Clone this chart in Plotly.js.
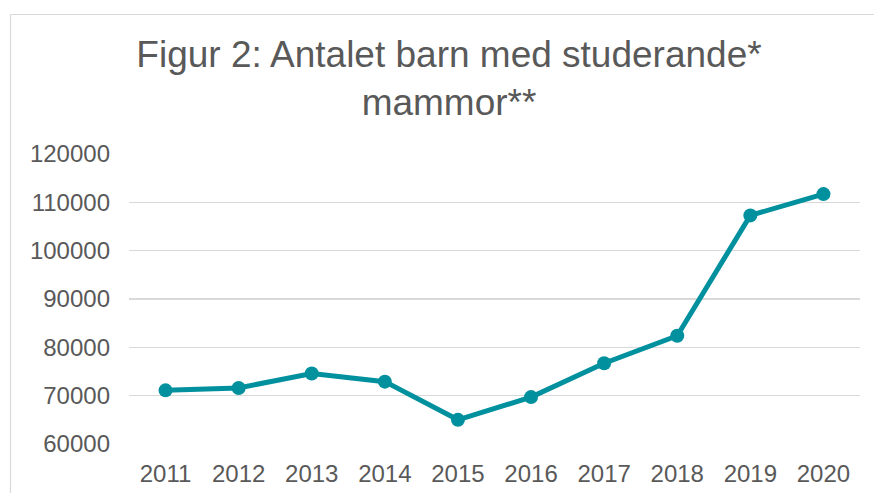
<!DOCTYPE html>
<html>
<head>
<meta charset="utf-8">
<script src="https://cdn.plot.ly/plotly-3.0.1.min.js"></script>
<style>
html,body{margin:0;padding:0;background:#fff;}
#chart{width:874px;height:493px;}
</style>
</head>
<body>
<div id="chart"></div>
<script>
const years = ["2011","2012","2013","2014","2015","2016","2017","2018","2019","2020"];
const antal = [71100, 71600, 74600, 72900, 65000, 69700, 76700, 82400, 107300, 111700];
const yTicks = [60000, 70000, 80000, 90000, 100000, 110000, 120000];
const titleText = "Figur 2: Antalet barn med studerande*<br>mammor**";

const L = 129, R = 14, T = 154, B = 49;
const W = 874 - L - R, H = 493 - T - B;

Plotly.newPlot("chart", [{
  x: years,
  y: antal,
  type: "scatter",
  mode: "lines+markers",
  line: {color: "#00909E", width: 5},
  marker: {color: "#00909E", size: 14},
  hoverinfo: "x+y"
}], {
  width: 874,
  height: 493,
  margin: {l: L, r: R, t: T, b: B},
  paper_bgcolor: "#fff",
  plot_bgcolor: "#fff",
  showlegend: false,
  title: {
    text: titleText,
    font: {family: "Liberation Sans, Arial, sans-serif", size: 37, color: "#595959"},
    xref: "container", x: 449 / 874, xanchor: "center",
    yref: "paper", y: 1, yanchor: "bottom",
    pad: {b: 87}
  },
  xaxis: {
    type: "category",
    range: [-0.5, 9.5],
    showgrid: false,
    showline: false,
    zeroline: false,
    ticks: "",
    ticklabelstandoff: 13,
    tickfont: {family: "Liberation Sans, Arial, sans-serif", size: 24, color: "#595959"}
  },
  yaxis: {
    range: [60000, 120000],
    tickvals: yTicks,
    ticktext: yTicks.map(String),
    showgrid: true,
    gridcolor: "#d9d9d9",
    gridwidth: 1.2,
    zeroline: false,
    showline: false,
    ticks: "",
    ticklabelstandoff: 18,
    tickfont: {family: "Liberation Sans, Arial, sans-serif", size: 24, color: "#595959"}
  },
  shapes: [{
    type: "rect",
    xref: "paper", yref: "paper",
    x0: (10.5 - L) / W, x1: (900 - L) / W,
    y0: (H + T - 520) / H, y1: (H + T - 14.5) / H,
    line: {color: "#d9d9d9", width: 1.2},
    fillcolor: "rgba(0,0,0,0)",
    layer: "below"
  }]
}, {displayModeBar: false, staticPlot: true});
</script>
</body>
</html>
